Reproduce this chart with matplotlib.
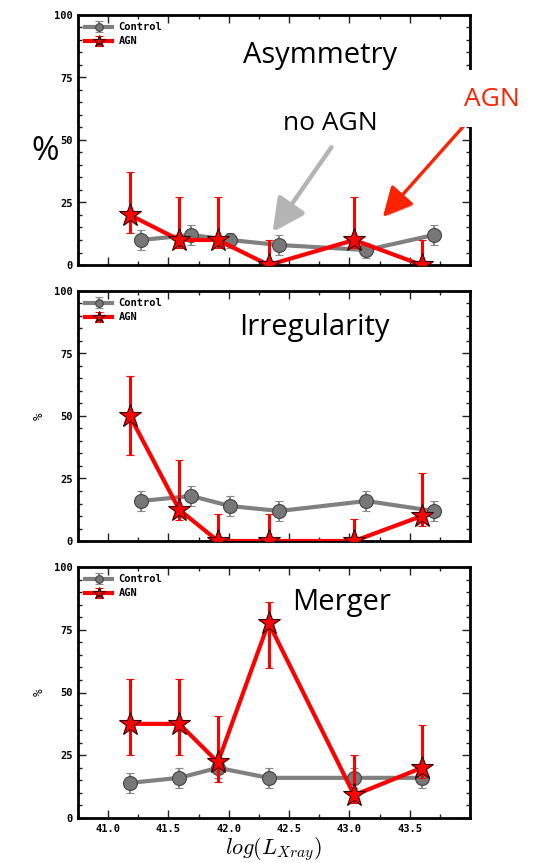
import matplotlib
matplotlib.use("Agg")
import matplotlib.pyplot as plt
import matplotlib.patheffects as pe
from matplotlib.patches import FancyArrowPatch, Rectangle
from matplotlib.ticker import MultipleLocator

plt.rcParams["mathtext.fontset"] = "cm"

W, H = 537, 863

# luminosity bins (log L_Xray)
x_agn = [41.18, 41.59, 41.91, 42.33, 43.04, 43.60]
x_ctrl_shift = [41.27, 41.69, 42.01, 42.42, 43.14, 43.70]

titles = ["Asymmetry", "Irregularity", "Merger"]

# AGN fractions (%) with lower / upper error sizes
agn_vals = [
    [20, 10, 10, 0, 10, 0],
    [50, 12.5, 0, 0, 0, 10],
    [37.5, 37.5, 22.2, 77.8, 9.1, 20],
]
agn_err_lo = [
    [7, 3, 3, 0, 3, 0],
    [15.5, 4, 0, 0, 0, 4],
    [12.5, 12.5, 8, 18, 3, 4],
]
agn_err_hi = [
    [17, 17, 17, 10, 17, 10],
    [16, 20, 11, 11, 9, 17],
    [18, 18, 18.5, 8.2, 16, 17],
]

# control sample fractions (%)
ctrl_vals = [
    [10, 12, 10, 8, 6, 12],
    [16, 18, 14, 12, 16, 12],
    [14, 16, 20, 16, 16, 16],
]
ctrl_err = [
    [4, 4, 3, 4, 3, 4],
    [4, 4, 4, 4, 4, 4],
    [4, 4, 4, 4, 4, 4],
]
ctrl_x = [x_ctrl_shift, x_ctrl_shift, x_agn]

xticks = [41.0, 41.5, 42.0, 42.5, 43.0, 43.5]
yticks = [0, 25, 50, 75, 100]

tick_font = dict(family="DejaVu Sans Mono", weight="bold", size=7.5)
slide_font = "Open Sans"


def fx(px):
    return px / W


def fy(py):
    return 1 - py / H


fig = plt.figure(figsize=(W / 100, H / 100), dpi=100)

# axes boxes in pixels: (top, bottom)
boxes = [(15, 265), (291, 541), (567, 818)]
left, right = 78, 470

axes = []
for i, (top, bot) in enumerate(boxes):
    ax = fig.add_axes([fx(left), fy(bot), fx(right - left), (bot - top) / H])
    axes.append(ax)

    ax.errorbar(ctrl_x[i], ctrl_vals[i], yerr=ctrl_err[i], color="#808080",
                lw=3, marker="o", ms=10, mfc="#777777", mec="#444444", mew=0.8,
                ecolor="#8a8a8a", elinewidth=1.5, capsize=3, capthick=1.5,
                label="Control", zorder=2)
    ax.errorbar(x_agn, agn_vals[i], yerr=[agn_err_lo[i], agn_err_hi[i]],
                color="red", lw=3, marker="*", ms=17, mfc="red", mec="#330000",
                mew=0.8, ecolor="red", elinewidth=2.2, capsize=3, capthick=1.5,
                label="AGN", zorder=3)

    ax.set_xlim(40.75, 44.0)
    ax.set_ylim(0, 100)
    ax.set_xticks(xticks)
    ax.set_yticks(yticks)
    ax.xaxis.set_minor_locator(MultipleLocator(0.25))
    ax.yaxis.set_minor_locator(MultipleLocator(5))
    ax.tick_params(which="both", direction="in", top=True, right=True,
                   width=1, color="#222222", pad=4)
    ax.tick_params(which="major", length=6)
    ax.tick_params(which="minor", length=3)
    for s in ax.spines.values():
        s.set_linewidth(2)
    for lab in ax.get_xticklabels() + ax.get_yticklabels():
        lab.set_fontproperties(tick_font)
    if i < 2:
        ax.set_xticklabels([])
    if i > 0:
        ax.set_ylabel("%", fontfamily="DejaVu Sans Mono", fontsize=9, labelpad=6)

    ax.legend(loc="upper left", frameon=False, handlelength=2.6,
              markerscale=0.55, borderaxespad=0.3, labelspacing=0.4,
              handletextpad=0.6, prop=tick_font)

axes[2].set_xlabel(r"$log(L_{Xray})$", fontsize=16, labelpad=1)

# slide annotations
fig.text(fx(320), fy(55), "Asymmetry", fontsize=21, family=slide_font,
         ha="center", va="center")
fig.text(fx(314), fy(328), "Irregularity", fontsize=21, family=slide_font,
         ha="center", va="center")
fig.text(fx(342), fy(602), "Merger", fontsize=21, family=slide_font,
         ha="center", va="center")
fig.text(fx(330), fy(123), "no AGN", fontsize=19, family=slide_font,
         ha="center", va="center")
fig.text(fx(45), fy(152), "%", fontsize=24, family=slide_font,
         ha="center", va="center")

shadow = [pe.SimplePatchShadow(offset=(1.5, -1.5), alpha=0.25), pe.Normal()]
fig.add_artist(FancyArrowPatch(
    (fx(333), fy(145)), (fx(271), fy(234)), transform=fig.transFigure,
    arrowstyle="-|>,head_length=0.9,head_width=0.45", mutation_scale=22,
    color="#b4b4b4", lw=3.2, path_effects=shadow))
fig.add_artist(FancyArrowPatch(
    (fx(478), fy(110)), (fx(381), fy(219)), transform=fig.transFigure,
    arrowstyle="-|>,head_length=0.9,head_width=0.45", mutation_scale=20,
    color="#ff2200", lw=2.4, path_effects=shadow))

# white label box over the right spine
fig.add_artist(Rectangle((fx(454), fy(127)), fx(W - 454), (127 - 70) / H,
                         transform=fig.transFigure, fc="white", ec="none",
                         zorder=4))
fig.text(fx(492), fy(100), "AGN", fontsize=19, family=slide_font,
         color="#ff2200", ha="center", va="center", zorder=5)

fig.savefig("out.png", dpi=100)
